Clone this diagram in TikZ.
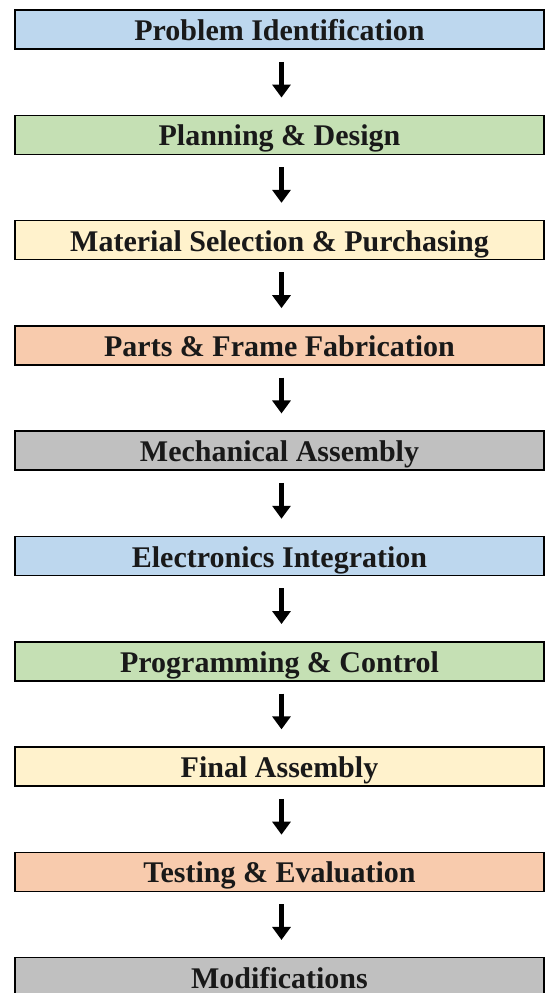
\documentclass[tikz,border=0pt]{standalone}
\usepackage{fontspec}
\setmainfont{Liberation Serif}
\usetikzlibrary{arrows.meta}
\definecolor{boxblue}{HTML}{BDD7EE}
\definecolor{boxgreen}{HTML}{C5E0B4}
\definecolor{boxyellow}{HTML}{FFF2CC}
\definecolor{boxorange}{HTML}{F8CBAD}
\definecolor{boxgray}{HTML}{C0C0C0}
\tikzset{
  stage/.style={draw=black, line width=1.5pt, minimum width=529pt, minimum height=39pt,
    inner sep=0pt, text height=22pt, text depth=0pt,
    font=\fontsize{30}{35}\selectfont\bfseries, text=black!90},
  flowarrow/.style={line width=4.5pt, -{Triangle[width=18pt,length=13pt]},
    shorten <=12pt, shorten >=17pt}
}
\begin{document}
\begin{tikzpicture}[x=1pt,y=-1pt]
\useasboundingbox (0,0) rectangle (549,993);
\clip (0,0) rectangle (549,993);
\fill[white] (0,0) rectangle (549,993);
\def\pitch{105.3}
\node[stage, fill=boxblue]   (b1)  at (279.5, {29.5+0*\pitch}) {Problem Identification};
\node[stage, fill=boxgreen]  (b2)  at (279.5, {29.5+1*\pitch}) {Planning \& Design};
\node[stage, fill=boxyellow] (b3)  at (279.5, {29.5+2*\pitch}) {Material Selection \& Purchasing};
\node[stage, fill=boxorange] (b4)  at (279.5, {29.5+3*\pitch}) {Parts \& Frame Fabrication};
\node[stage, fill=boxgray]   (b5)  at (279.5, {29.5+4*\pitch}) {Mechanical Assembly};
\node[stage, fill=boxblue]   (b6)  at (279.5, {29.5+5*\pitch}) {Electronics Integration};
\node[stage, fill=boxgreen]  (b7)  at (279.5, {29.5+6*\pitch}) {Programming \& Control};
\node[stage, fill=boxyellow] (b8)  at (279.5, {29.5+7*\pitch}) {Final Assembly};
\node[stage, fill=boxorange] (b9)  at (279.5, {29.5+8*\pitch}) {Testing \& Evaluation};
\node[stage, fill=boxgray]   (b10) at (279.5, {29.5+9*\pitch}) {Modifications};
\foreach \a/\b in {b1/b2,b2/b3,b3/b4,b4/b5,b5/b6,b6/b7,b7/b8,b8/b9,b9/b10}
  \draw[flowarrow] ([xshift=2pt]\a.south) -- ([xshift=2pt]\b.north);
\end{tikzpicture}
\end{document}
